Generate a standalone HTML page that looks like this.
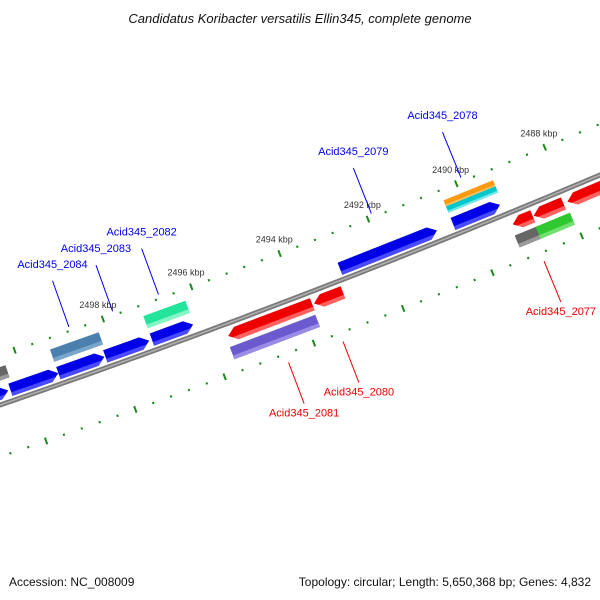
<!DOCTYPE html>
<html><head><meta charset="utf-8"><style>
html,body{margin:0;padding:0;background:#fff;}
svg{display:block;font-family:"Liberation Sans","DejaVu Sans",sans-serif;}
</style></head><body>
<svg id="chart" width="600" height="600" viewBox="0 0 600 600">
<text x="300" y="23" text-anchor="middle" font-size="13" font-style="italic" fill="#111">Candidatus Koribacter versatilis Ellin345, complete genome</text>
<g id="ticks"></g>
<g id="backbone"></g>
<g id="features"></g>
<g id="labels"></g>
<text x="9" y="586" font-size="12" fill="#111">Accession: NC_008009</text>
<text x="591" y="586" text-anchor="end" font-size="12" fill="#111">Topology: circular; Length: 5,650,368 bp; Genes: 4,832</text>
</svg>
<script>
// feature data (kbp)
const featStart = [2501.35,2500.36,2499.28,2498.22,2497.17,2492.93,2490.38, 2501.13,2499.28,2497.17,2490.38,2490.38, 2495.63,2493.70,2489.23,2488.76,2488.00, 2495.68,2489.28,2488.81];
const featEnd   = [2500.41,2499.28,2498.24,2497.23,2496.24,2490.74,2489.32, 2500.29,2498.18,2496.22,2489.26,2489.26, 2493.74,2493.05,2488.78,2488.09,2486.26, 2493.76,2488.76,2488.04];
const featLane  = [1,1,1,1,1,1,1, 2,2,2,2.4,1.6, -1,-1,-1,-1,-1, -2,-2,-2];
const featKind  = ['blue','blue','blue','blue','blue','blue','blue','gray','steel','mint','orange','cyan','red','red','red','red','red','purple','gray','green'];
const featArrow = [1,1,1,1,1,1,1, 0,0,0,0,0, -1,-1,-1,-1,-1, 0,0,0];
const tickLabels = [2488,2490,2492,2494,2496,2498];
const geneNames = ['Acid345_2084','Acid345_2083','Acid345_2082','Acid345_2079','Acid345_2078','Acid345_2081','Acid345_2080','Acid345_2077'];
const geneKbp = [2498.74,2497.75,2496.71,2491.89,2489.86,2494.64,2493.42,2488.92];
const geneSide = [1,1,1,1,1,-1,-1,-1];

const NS='http://www.w3.org/2000/svg';
const colors={blue:['#0000e6','#4a4aff'],red:['#ee0000','#ff6060'],gray:['#666666','#9a9a9a'],steel:['#4a7fae','#7aa6cc'],mint:['#22e49a','#86f5c6'],orange:['#ff9a10','#ffc060'],cyan:['#00c8cc','#70e8ea'],purple:['#6a5acd','#9a8ce6'],green:['#30c830','#70e070']};
function bxOf(k){return 474-(k-2490)*44.4;}
function pt(bx,off){
  const y0=405-0.3433*bx-6.67e-5*bx*bx;
  const m=-0.3433-1.334e-4*bx;
  const n=Math.sqrt(1+m*m);
  return [bx+off*m/n, y0-off/n];
}
function mk(tag,attrs,parent){const e=document.createElementNS(NS,tag);for(const a in attrs)e.setAttribute(a,attrs[a]);parent.appendChild(e);return e;}
function P(a){return a.map(p=>p[0].toFixed(1)+','+p[1].toFixed(1)).join(' ');}

// backbone
const bb=document.getElementById('backbone');
let d=[];for(let x=-20;x<=640;x+=10){const p=pt(x,0);d.push(p);}
let pl=mk('polyline',{points:P(d),fill:'none',stroke:'#7a7a7a','stroke-width':5},bb);


pl=mk('polyline',{points:P(d),fill:'none',stroke:'#b0b0b0','stroke-width':1.5},bb);



// ticks
const tg=document.getElementById('ticks');
[47,-49].forEach(function(off){
  for(let k=2485.2;k<=2502.4;k+=0.4){
    const kk=Math.round(k*10)/10;
    const major=Math.abs(kk/2-Math.round(kk/2))<0.01;
    const bx=bxOf(kk);
    const L=major?3.5:1.1;
    const a=pt(bx,off-L),b=pt(bx,off+L);
    const ln=mk('line',{x1:a[0],y1:a[1],x2:b[0],y2:b[1],stroke:'#1a8a1a','stroke-width':2},tg);
    
    
  }
});
tickLabels.forEach(function(k){
  const p=pt(bxOf(k),62);
  const t=mk('text',{x:p[0],y:p[1]+3,'text-anchor':'middle','font-size':9,fill:'#333'},tg);
  t.textContent=k+' kbp';
  
  
});

// features
const fg=document.getElementById('features');
const laneOff={'1':11,'2':29.5,'2.4':33,'1.6':26.5,'-1':-12,'-2':-29.5};
for(let i=0;i<featStart.length;i++){
  const c=featLane[i];const off=laneOff[String(c)];
  const half=(c===2.4||c===1.6)?3.4:6.5;
  let b1=bxOf(featStart[i]),b2=bxOf(featEnd[i]);
  const top=off+half,bot=off-half;
  const head=Math.min(8,(b2-b1)*0.5);
  let poly,strip;
  if(featArrow[i]===1){
    poly=[pt(b1,top),pt(b2-head,top),pt(b2,off),pt(b2-head,bot),pt(b1,bot)];
    strip=[pt(b1,bot+half*0.6),pt(b2-head*0.4,bot+half*0.6),pt(b2-head,bot),pt(b1,bot)];
  }else if(featArrow[i]===-1){
    poly=[pt(b1+head,top),pt(b2,top),pt(b2,bot),pt(b1+head,bot),pt(b1,off)];
    strip=[pt(b1+head*0.4,bot+half*0.6),pt(b2,bot+half*0.6),pt(b2,bot),pt(b1+head,bot)];
  }else{
    poly=[pt(b1,top),pt(b2,top),pt(b2,bot),pt(b1,bot)];
    strip=[pt(b1,bot+half*0.6),pt(b2,bot+half*0.6),pt(b2,bot),pt(b1,bot)];
  }
  const col=colors[featKind[i]];
  const g=mk('g',{},fg);
  
  
  mk('polygon',{points:P(poly),fill:col[0]},g);
  mk('polygon',{points:P(strip),fill:col[1]},g);
}

// gene labels
const lg=document.getElementById('labels');
geneNames.forEach(function(name,i){
  const s=geneSide[i];const bx=bxOf(geneKbp[i]);
  const a=pt(bx,s>0?51:-58),b=pt(bx,s>0?100:-102);
  const col=s>0?'#0000ee':'#ee0000';
  const ln=mk('line',{x1:a[0],y1:a[1],x2:b[0],y2:b[1],stroke:col,'stroke-width':1},lg);
  
  
  const t=mk('text',{x:b[0],y:s>0?b[1]-13:b[1]+13,'text-anchor':'middle','font-size':11,fill:col},lg);
  t.textContent=name;
  
  
});
</script>
</body></html>
